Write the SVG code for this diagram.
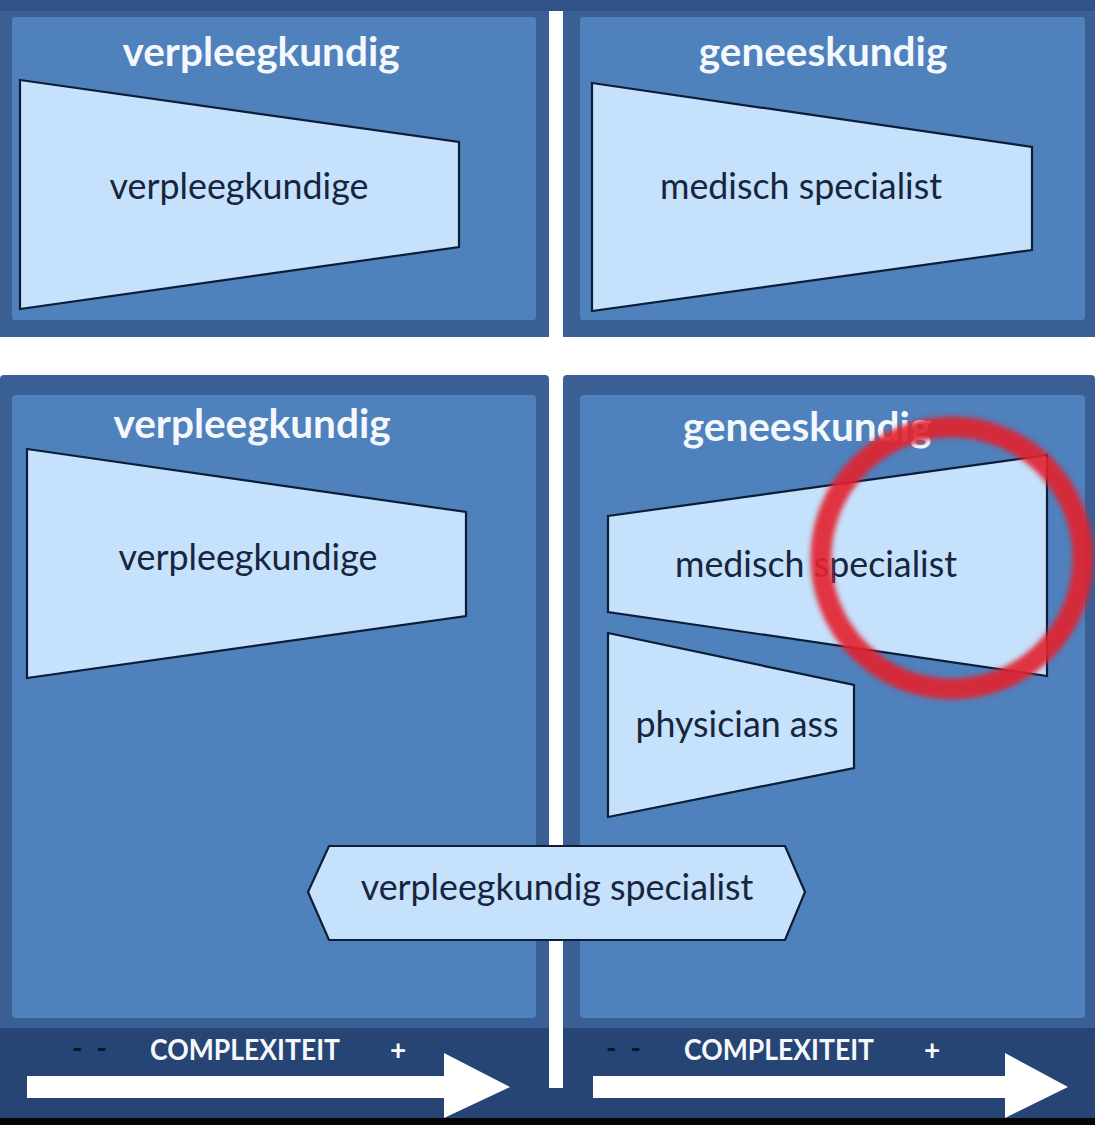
<svg xmlns="http://www.w3.org/2000/svg" width="1095" height="1125" viewBox="0 0 1095 1125">
  <defs>
    <style>
      .frame { fill: #3a5f95; }
      .inner { fill: #4f81bd; }
      .shape { fill: #c5e1fb; stroke: #0e1d36; stroke-width: 2.2; stroke-linejoin: miter; }
      .head { font-family: Lato, "Open Sans", sans-serif; font-weight: bold; font-size: 40.5px; fill: #f4f8fc; text-anchor: middle; }
      .lbl { font-family: Lato, "Open Sans", sans-serif; font-size: 35.8px; fill: #17253d; text-anchor: middle; }
      .cx { font-family: Lato, "Open Sans", sans-serif; font-weight: bold; font-size: 28px; fill: #f6f8fb; }
      .dash { font-family: Lato, "Open Sans", sans-serif; font-weight: bold; font-size: 28px; fill: #0c1426; }
      .arrow { fill: #ffffff; }
    </style>
    <filter id="blur" x="-20%" y="-20%" width="140%" height="140%">
      <feGaussianBlur stdDeviation="2.5"/>
    </filter>
  </defs>

  <rect x="0" y="0" width="1095" height="1125" fill="#ffffff"/>

  <g id="panel-top-left">
    <rect class="frame" x="0" y="0" width="549" height="337"/>
    <rect class="inner" x="12" y="17" width="524" height="303" rx="3"/>
  </g>
  <g id="panel-top-right">
    <rect class="frame" x="563" y="0" width="532" height="337"/>
    <rect class="inner" x="580" y="17" width="505" height="303" rx="3"/>
  </g>
  <rect x="0" y="0" width="1095" height="11" fill="#2f5288"/>

  <g id="panel-bottom-left">
    <rect class="frame" x="0" y="375" width="549" height="660" rx="4"/>
    <rect class="inner" x="12" y="395" width="524" height="623" rx="4"/>
  </g>
  <g id="panel-bottom-right">
    <rect class="frame" x="563" y="375" width="532" height="660" rx="4"/>
    <rect class="inner" x="580" y="395" width="505" height="623" rx="4"/>
  </g>

  <rect x="0" y="1028" width="1095" height="90" fill="#274574"/>
  <rect x="0" y="1118" width="1095" height="7" fill="#050505"/>
  <rect x="549" y="1020" width="14" height="68" fill="#ffffff"/>

  <g id="title-tl"><text class="head" x="261" y="66">verpleegkundig</text></g>
  <g id="title-tr"><text class="head" x="823" y="66">geneeskundig</text></g>
  <g id="title-bl"><text class="head" x="252" y="438">verpleegkundig</text></g>
  <g id="title-br"><text class="head" x="807" y="441">geneeskundig</text></g>

  <g id="node-verpleegkundige-top">
    <polygon class="shape" points="20,80 459,142 459,247 20,309"/>
    <text class="lbl" x="239" y="199">verpleegkundige</text>
  </g>
  <g id="node-medisch-top">
    <polygon class="shape" points="592,83 1032,147 1032,250 592,311"/>
    <text class="lbl" x="801" y="199">medisch specialist</text>
  </g>
  <g id="node-verpleegkundige-bottom">
    <polygon class="shape" points="27,449 466,512 466,616 27,678"/>
    <text class="lbl" x="248" y="570">verpleegkundige</text>
  </g>
  <g id="node-medisch-bottom">
    <polygon class="shape" points="608,516 1047,455 1047,676 608,612"/>
    <text class="lbl" x="816" y="577">medisch specialist</text>
  </g>
  <g id="node-physician">
    <polygon class="shape" points="608,633 854,685 854,768 608,817"/>
    <text class="lbl" x="737" y="737">physician ass</text>
  </g>
  <g id="node-vs">
    <polygon class="shape" points="308,892 329,846 785,846 805,892 785,940 329,940"/>
    <text class="lbl" x="557" y="900">verpleegkundig specialist</text>
  </g>

  <g id="highlight">
    <circle cx="952" cy="558" r="131" fill="none" stroke="#e3232e" stroke-width="21" opacity="0.9" filter="url(#blur)"/>
  </g>

  <g id="axis-left">
    <text class="dash" x="72" y="1058" textLength="35" lengthAdjust="spacing">- -</text>
    <text class="cx" x="150" y="1060" textLength="190" lengthAdjust="spacingAndGlyphs">COMPLEXITEIT</text>
    <text class="cx" x="390" y="1060">+</text>
    <polygon class="arrow" points="27,1076 444,1076 444,1053 510,1087 444,1118 444,1098 27,1098"/>
  </g>
  <g id="axis-right">
    <text class="dash" x="606" y="1058" textLength="35" lengthAdjust="spacing">- -</text>
    <text class="cx" x="684" y="1060" textLength="190" lengthAdjust="spacingAndGlyphs">COMPLEXITEIT</text>
    <text class="cx" x="924" y="1060">+</text>
    <polygon class="arrow" points="593,1076 1005,1076 1005,1053 1068,1087 1005,1118 1005,1098 593,1098"/>
  </g>
</svg>
